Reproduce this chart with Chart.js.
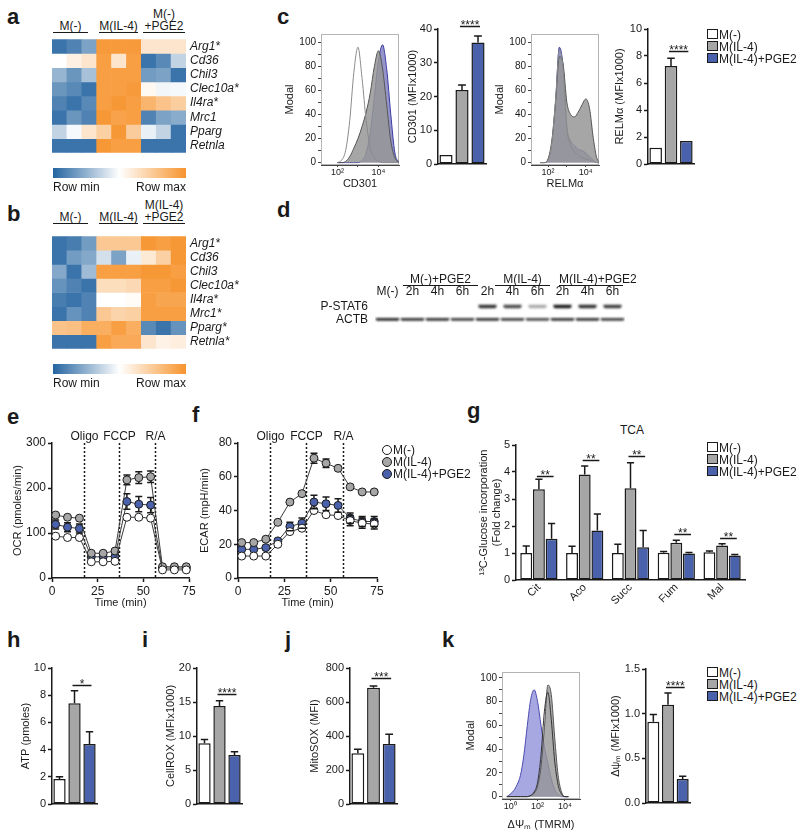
<!DOCTYPE html>
<html>
<head>
<meta charset="utf-8">
<script src="https://cdn.jsdelivr.net/npm/chart.js@4.4.1/dist/chart.umd.min.js"></script>
<style>
  body { margin: 0; background: #fff; }
  #fig { position: relative; width: 800px; height: 840px; overflow: hidden; font-family: 'Liberation Sans', Arial, sans-serif; color: #1a1a1a; }
  #fig canvas { position: absolute; }
  .lbl { position: absolute; font-size: 22px; font-weight: bold; line-height: 22px; }
  .txt { position: absolute; font-size: 12px; line-height: 12px; white-space: nowrap; }
  .hd { position: absolute; font-size: 12px; line-height: 12px; text-align: center; border-bottom: 1.5px solid #1a1a1a; white-space: nowrap; }
  .sw { display: inline-block; width: 9px; height: 8px; border: 1.5px solid #1a1a1a; vertical-align: top; margin-right: 1px; }
  .dot { display: inline-block; width: 8px; height: 8px; border: 1.2px solid #1a1a1a; border-radius: 50%; vertical-align: top; margin-top: 1px; margin-right: 1px; }
</style>
</head>
<body>
<div id="fig"></div>
<script>
// ---------- data ----------
var groups = ['M(-)', 'M(IL-4)', 'M(IL-4)+PGE2'];
var groupColors = ['#ffffff', '#a6a6a6', '#4a61ac'];

// heatmaps a / b (0 = row min, 1 = row max)
var heatSamples = ['1', '2', '3', '1', '2', '3', '1', '2', '3'];
var genesA = ['Arg1*', 'Cd36', 'Chil3', 'Clec10a*', 'Il4ra*', 'Mrc1', 'Pparg', 'Retnla'];
var heatA = [
  [0.05, 0.10, 0.20, 0.97, 0.97, 0.97, 0.62, 0.62, 0.62],
  [0.50, 0.57, 0.62, 0.95, 0.62, 0.95, 0.05, 0.12, 0.36],
  [0.26, 0.16, 0.30, 0.95, 0.95, 0.95, 0.18, 0.20, 0.05],
  [0.16, 0.12, 0.05, 0.95, 0.95, 0.97, 0.53, 0.47, 0.48],
  [0.10, 0.05, 0.12, 0.95, 0.98, 0.95, 0.85, 0.78, 0.73],
  [0.05, 0.16, 0.10, 0.98, 0.93, 0.95, 0.10, 0.20, 0.23],
  [0.36, 0.48, 0.62, 0.72, 0.98, 0.74, 0.45, 0.36, 0.05],
  [0.05, 0.05, 0.05, 0.98, 0.95, 0.95, 0.05, 0.05, 0.05]
];
var genesB = ['Arg1*', 'Cd36', 'Chil3', 'Clec10a*', 'Il4ra*', 'Mrc1*', 'Pparg*', 'Retnla*'];
var heatB = [
  [0.05, 0.08, 0.18, 0.76, 0.76, 0.76, 0.98, 0.95, 0.98],
  [0.05, 0.18, 0.22, 0.40, 0.20, 0.45, 0.60, 0.72, 0.98],
  [0.22, 0.05, 0.28, 0.95, 0.95, 0.95, 0.98, 0.98, 0.95],
  [0.15, 0.10, 0.05, 0.66, 0.66, 0.68, 0.95, 0.95, 0.98],
  [0.08, 0.05, 0.10, 0.50, 0.50, 0.52, 0.95, 0.92, 0.92],
  [0.05, 0.15, 0.10, 0.76, 0.70, 0.72, 0.95, 0.95, 0.95],
  [0.78, 0.80, 0.88, 0.88, 0.95, 0.88, 0.12, 0.05, 0.15],
  [0.05, 0.05, 0.05, 0.95, 0.90, 0.90, 0.62, 0.56, 0.58]
];
var colorbarLabels = ['Row min', 'Row max'];

// c: flow histograms (x in log10 units) and MFI bars
var histYTicks = [0, 10, 20, 30, 40, 50, 60, 70, 80, 90, 100];
var cdHistX = [2.0, 2.2, 2.4, 2.6, 2.8, 3.0, 3.2, 3.4, 3.6, 3.8, 4.0, 4.2, 4.4, 4.6, 4.8, 5.0];
var cdHistM = [0, 2, 10, 35, 75, 96, 70, 35, 12, 4, 1, 0, 0, 0, 0, 0];
var cdHistIL4 = [0, 0, 1, 5, 12, 20, 30, 42, 58, 80, 93, 78, 48, 18, 4, 0];
var cdHistPGE2 = [0, 0, 0, 0, 0, 0, 2, 8, 25, 55, 85, 98, 78, 40, 8, 0];
var cdXTicks = [2, 3, 4];
var cdXLabels = ['10\u00b2', '', '10\u2074'];
var cd301 = [2.7, 21.9, 36.0];
var cd301Err = [0, 1.5, 1.9];

var relmHistX = [1.6, 1.8, 2.0, 2.2, 2.4, 2.6, 2.8, 3.0, 3.2, 3.4, 3.6, 3.8, 4.0, 4.2, 4.4, 4.6, 4.8];
var relmHistM = [0, 0, 2, 16, 52, 94, 78, 28, 14, 9, 6, 4, 3, 2, 1, 0, 0];
var relmHistIL4 = [0, 0, 3, 18, 50, 88, 82, 50, 40, 38, 42, 48, 53, 45, 20, 3, 0];
var relmHistPGE2 = [0, 0, 2, 15, 50, 96, 80, 30, 18, 14, 11, 10, 8, 5, 2, 0, 0];
var relmXTicks = [2, 3, 4];
var relmXLabels = ['10\u00b2', '', '10\u2074'];
var relm = [1.21, 7.26, 1.70];
var relmErr = [0, 0.57, 0];

// d: western blot band intensities
var lanes = ['M(-)', '2h', '4h', '6h', '2h', '4h', '6h', '2h', '4h', '6h'];
var blotRows = ['P-STAT6', 'ACTB'];
var pstat6 = [0, 0, 0, 0, 0.85, 0.75, 0.35, 0.95, 0.85, 0.8];
var actb = [0.9, 0.85, 0.85, 0.8, 0.85, 0.8, 0.75, 0.85, 0.85, 0.8];

// e/f: Seahorse
var seahorseTime = [2, 8.5, 15, 21.5, 28, 34.5, 41, 47.5, 54, 60.5, 67, 73.5];
var injTimes = [17.5, 36.5, 56.5];
var injNames = ['Oligo', 'FCCP', 'R/A'];
var ocrM = [93, 90, 90, 36, 36, 37, 135, 135, 133, 18, 18, 18];
var ocrIL4 = [140, 135, 133, 55, 55, 60, 218, 223, 225, 25, 25, 25];
var ocrPGE2 = [119, 113, 110, 47, 47, 48, 170, 164, 162, 22, 22, 22];
var ocrErrM = [4, 4, 4, 3, 3, 3, 4, 4, 4, 2, 2, 2];
var ocrErrIL4 = [6, 6, 6, 4, 4, 4, 11, 13, 13, 3, 3, 3];
var ocrErrPGE2 = [10, 10, 10, 4, 4, 4, 17, 17, 17, 3, 3, 3];
var ecarM = [13, 13, 13, 20, 27.5, 29.5, 40, 37.5, 37, 34, 32.5, 32];
var ecarIL4 = [21, 21, 23, 33, 45, 50, 71, 68, 65, 54, 51, 51];
var ecarPGE2 = [17, 17, 18, 22, 30.5, 32.5, 45, 44, 43, 35.5, 33.5, 33.5];
var ecarErrM = [1.5, 1.5, 1.5, 1.5, 2, 2, 2, 2, 2, 3, 3, 3];
var ecarErrIL4 = [1, 1, 1, 1, 1, 1, 3, 2.5, 2, 1.5, 1.5, 1.5];
var ecarErrPGE2 = [2, 2, 2, 2, 2.5, 3, 4, 4, 4, 3, 3, 3];

// g: 13C-glucose incorporation
var tcaMetabolites = ['Cit', 'Aco', 'Succ', 'Fum', 'Mal'];
var tcaM = [1.0, 1.0, 1.0, 1.01, 1.03];
var tcaIL4 = [3.36, 3.91, 3.40, 1.38, 1.28];
var tcaPGE2 = [1.53, 1.83, 1.21, 0.98, 0.91];
var tcaErrM = [0.26, 0.25, 0.32, 0.05, 0.04];
var tcaErrIL4 = [0.37, 0.31, 0.94, 0.09, 0.06];
var tcaErrPGE2 = [0.56, 0.61, 0.62, 0.04, 0.03];
var tcaSig = [3.86, 4.44, 4.6, 1.7, 1.57];

// h-k
var atp = [1.84, 7.4, 4.41];
var atpErr = [0.16, 0.93, 0.91];
var cellrox = [8.93, 14.4, 7.2];
var cellroxErr = [0.57, 0.8, 0.5];
var mitosox = [298, 684, 353];
var mitosoxErr = [24, 10, 57];
var kHistX = [-0.25, 0, 0.25, 0.5, 0.75, 1.0, 1.25, 1.5, 1.75, 2.0, 2.25, 2.5, 2.75, 3.0, 3.25, 3.5, 3.75, 4.0, 4.25];
var kHistM = [0, 0, 0, 0, 0, 0, 0, 1, 4, 12, 35, 72, 88, 65, 30, 10, 2, 0, 0];
var kHistIL4 = [0, 0, 0, 0, 0, 0, 0, 1, 3, 9, 25, 58, 94, 86, 50, 18, 4, 0, 0];
var kHistPGE2 = [0, 2, 5, 10, 18, 35, 60, 82, 90, 80, 60, 42, 28, 15, 6, 2, 0, 0, 0];
var kXTicks = [0, 2, 4];
var kXLabels = ['10\u2070', '10\u00b2', '10\u2074'];
var tmrm = [0.91, 1.10, 0.27];
var tmrmErr = [0.08, 0.13, 0.03];

// ---------- setup ----------
var INK = '#1a1a1a';
var FONT = "'Liberation Sans', Arial, sans-serif";
Chart.defaults.font.family = FONT;
Chart.defaults.font.size = 11;
Chart.defaults.color = INK;
Chart.defaults.animation = false;
Chart.defaults.plugins.legend.display = false;
Chart.defaults.plugins.tooltip.enabled = false;

var fig = document.getElementById('fig');

function addDiv(cls, x, y, html, extra) {
  var d = document.createElement('div');
  d.className = cls;
  d.style.left = x + 'px';
  d.style.top = y + 'px';
  if (extra) Object.keys(extra).forEach(function (k) { d.style[k] = extra[k]; });
  d.innerHTML = html;
  fig.appendChild(d);
  return d;
}

// area = plot box [left, top, right, bottom] on the page, m = margins [l, t, r, b]
function makeChart(area, m, cfg) {
  var cv = document.createElement('canvas');
  var w = area[2] - area[0] + m[0] + m[2];
  var h = area[3] - area[1] + m[1] + m[3];
  cv.width = w; cv.height = h;
  cv.style.left = (area[0] - m[0]) + 'px';
  cv.style.top = (area[1] - m[1]) + 'px';
  cv.style.width = w + 'px';
  cv.style.height = h + 'px';
  fig.appendChild(cv);
  var pad = { left: m[0], top: m[1], right: m[2], bottom: m[3] };
  var sc = cfg.options.scales || {};
  Object.keys(sc).forEach(function (k) {
    var s = sc[k];
    if (s.display === false) return;
    var pos = s.position || (k.charAt(0) === 'x' ? 'bottom' : 'left');
    var size = pad[pos];
    pad[pos] = 0;
    s.afterFit = function (a) {
      if (pos === 'left' || pos === 'right') a.width = size; else a.height = size;
    };
  });
  cfg.options.responsive = false;
  cfg.options.layout = { padding: pad };
  return new Chart(cv, cfg);
}

function yAxis(min, max, step, title, fontSize) {
  return {
    min: min, max: max,
    ticks: { stepSize: step, padding: 2, font: { size: fontSize || 11 } },
    grid: { display: true, drawOnChartArea: false, drawTicks: true, tickLength: 4, tickColor: INK, tickWidth: 1.5 },
    border: { display: true, color: INK, width: 1.5 },
    title: { display: !!title, text: title, padding: 0, font: { size: 11 } }
  };
}

function xBar() {
  return {
    ticks: { display: false },
    grid: { display: false, drawTicks: false },
    border: { display: true, color: INK, width: 1.5 }
  };
}

var errPlugin = {
  id: 'errs',
  afterDatasetsDraw: function (chart) {
    var ctx = chart.ctx;
    chart.data.datasets.forEach(function (ds, i) {
      if (!ds.errs) return;
      var meta = chart.getDatasetMeta(i);
      var ys = chart.scales[meta.yAxisID];
      var isBar = meta.type === 'bar';
      ctx.save();
      ctx.strokeStyle = INK;
      ctx.lineWidth = 1.5;
      meta.data.forEach(function (el, j) {
        var e = ds.errs[j];
        if (!e) return;
        var raw = ds.data[j];
        var v = typeof raw === 'object' ? raw.y : raw;
        var top = ys.getPixelForValue(v + e);
        var cap = isBar ? Math.min(el.width * 0.3, 4) : 3.5;
        ctx.beginPath();
        if (isBar) {
          ctx.moveTo(el.x, el.y); ctx.lineTo(el.x, top);
          ctx.moveTo(el.x - cap, top); ctx.lineTo(el.x + cap, top);
        } else {
          var bot = ys.getPixelForValue(v - e), r = 4;
          if (el.y - top > r) {
            ctx.moveTo(el.x, el.y - r); ctx.lineTo(el.x, top);
            ctx.moveTo(el.x - cap, top); ctx.lineTo(el.x + cap, top);
          }
          if (bot - el.y > r) {
            ctx.moveTo(el.x, el.y + r); ctx.lineTo(el.x, bot);
            ctx.moveTo(el.x - cap, bot); ctx.lineTo(el.x + cap, bot);
          }
        }
        ctx.stroke();
      });
      ctx.restore();
    });
  }
};

var sigPlugin = {
  id: 'sig',
  afterDatasetsDraw: function (chart, args, opts) {
    var ctx = chart.ctx, ys = chart.scales.y;
    (opts.items || []).forEach(function (it) {
      var a = chart.getDatasetMeta(it.a[0]).data[it.a[1]];
      var b = chart.getDatasetMeta(it.b[0]).data[it.b[1]];
      var y = Math.round(ys.getPixelForValue(it.y)) + 0.5;
      ctx.save();
      ctx.strokeStyle = INK;
      ctx.lineWidth = 1.5;
      ctx.beginPath();
      ctx.moveTo(a.x - 2, y); ctx.lineTo(b.x + 2, y);
      ctx.stroke();
      ctx.fillStyle = INK;
      ctx.font = '12px ' + FONT;
      ctx.textAlign = 'center';
      ctx.textBaseline = 'alphabetic';
      ctx.fillText(it.text, (a.x + b.x) / 2, y + 2);
      ctx.restore();
    });
  }
};

var injPlugin = {
  id: 'inj',
  beforeDatasetsDraw: function (chart, args, opts) {
    var ctx = chart.ctx, a = chart.chartArea, xs = chart.scales.x;
    ctx.save();
    opts.at.forEach(function (t, i) {
      var x = Math.round(xs.getPixelForValue(t)) + 0.5;
      ctx.setLineDash([2, 2]);
      ctx.lineWidth = 1.5;
      ctx.strokeStyle = INK;
      ctx.beginPath(); ctx.moveTo(x, a.top); ctx.lineTo(x, a.bottom); ctx.stroke();
      ctx.setLineDash([]);
      ctx.fillStyle = INK;
      ctx.font = '12px ' + FONT;
      ctx.textAlign = 'center';
      ctx.textBaseline = 'bottom';
      ctx.fillText(opts.labels[i], x, a.top);
    });
    ctx.restore();
  }
};

var boxPlugin = {
  id: 'box',
  beforeDatasetsDraw: function (chart) {
    var a = chart.chartArea, ctx = chart.ctx;
    ctx.save();
    ctx.strokeStyle = '#b4b4b4';
    ctx.lineWidth = 1;
    ctx.strokeRect(a.left + 0.5, a.top + 0.5, a.right - a.left - 1, a.bottom - a.top - 1);
    ctx.restore();
  }
};

// soft edges for the blot bands
var blurPlugin = {
  id: 'blur',
  beforeDatasetsDraw: function (chart) { chart.ctx.save(); chart.ctx.filter = 'blur(0.9px)'; },
  afterDatasetsDraw: function (chart) { chart.ctx.restore(); }
};

function heatColor(v) {
  var lo = [36, 100, 160], mid = [255, 255, 255], hi = [247, 148, 46];
  var a, b, t;
  if (v < 0.5) { a = lo; b = mid; t = v / 0.5; } else { a = mid; b = hi; t = (v - 0.5) / 0.5; }
  return 'rgb(' + [0, 1, 2].map(function (k) { return Math.round(a[k] + (b[k] - a[k]) * t); }).join(',') + ')';
}

function heatmap(area, genes, heat) {
  var ds = genes.map(function (g, r) {
    return {
      data: heat[r].map(function () { return [r, r + 1]; }),
      backgroundColor: heat[r].map(heatColor),
      borderWidth: 0, grouped: false, barPercentage: 1, categoryPercentage: 1
    };
  });
  return makeChart(area, [0, 8, 70, 8], {
    type: 'bar',
    data: { labels: heatSamples, datasets: ds },
    options: {
      scales: {
        x: { display: false },
        y: {
          position: 'right', min: 0, max: genes.length, reverse: true,
          afterBuildTicks: function (s) { s.ticks = genes.map(function (g, i) { return { value: i + 0.5 }; }); },
          ticks: { autoSkip: false, padding: 4, font: { size: 12, style: 'italic' },
                   callback: function (v, i) { return genes[i]; } },
          grid: { display: false, drawTicks: false }, border: { display: false }
        }
      }
    }
  });
}

function colorbar(area) {
  return makeChart(area, [8, 4, 8, 16], {
    type: 'bar',
    data: { labels: [''], datasets: [{
      data: [[0, 1]], borderWidth: 0, barPercentage: 1, categoryPercentage: 1,
      backgroundColor: function (c) {
        var a = c.chart.chartArea;
        if (!a) return '#fff';
        var g = c.chart.ctx.createLinearGradient(a.left, 0, a.right, 0);
        g.addColorStop(0, heatColor(0)); g.addColorStop(0.5, heatColor(0.5)); g.addColorStop(1, heatColor(1));
        return g;
      }
    }] },
    options: {
      indexAxis: 'y',
      scales: {
        y: { display: false },
        x: {
          min: 0, max: 1,
          afterBuildTicks: function (s) { s.ticks = [{ value: 0 }, { value: 1 }]; },
          ticks: { align: 'inner', padding: 2, font: { size: 12 }, callback: function (v, i) { return colorbarLabels[i]; } },
          grid: { display: false, drawTicks: false }, border: { display: false }
        }
      }
    }
  });
}

function bar3(area, m, vals, errs, y, sigY, sigText) {
  return makeChart(area, m, {
    type: 'bar',
    data: { labels: groups, datasets: [{
      data: vals, errs: errs, backgroundColor: groupColors, borderColor: INK, borderWidth: 1.5,
      borderSkipped: false, barPercentage: 0.82, categoryPercentage: 1
    }] },
    options: {
      scales: { x: xBar(), y: y },
      plugins: { sig: { items: [{ a: [0, 1], b: [0, 2], y: sigY, text: sigText }] } }
    },
    plugins: [errPlugin, sigPlugin]
  });
}

function hist(area, m, xs, curves, styles, yMin, yMax, xMin, xMax, xTicks, xLabels, xTitle) {
  var ds = curves.map(function (c, i) {
    var st = styles[i];
    return {
      data: xs.map(function (x, j) { return { x: x, y: c[j] }; }),
      fill: st.fill ? 'origin' : false, backgroundColor: st.fill || 'transparent',
      borderColor: st.line, borderWidth: 1, pointRadius: 0, cubicInterpolationMode: 'monotone'
    };
  });
  return makeChart(area, m, {
    type: 'line',
    data: { datasets: ds },
    options: {
      scales: {
        x: {
          type: 'linear', min: xMin, max: xMax,
          afterBuildTicks: function (s) { s.ticks = xTicks.map(function (v) { return { value: v }; }); },
          ticks: { autoSkip: false, padding: 0, maxRotation: 0, font: { size: 9 }, callback: function (v, i) { return xLabels[i]; } },
          grid: { display: true, drawOnChartArea: false, drawTicks: true, tickLength: 2, tickColor: '#444' },
          border: { display: true, color: '#444', width: 1 },
          title: { display: true, text: xTitle, padding: 0, font: { size: 11 } }
        },
        y: {
          min: yMin, max: yMax,
          afterBuildTicks: function (s) { s.ticks = histYTicks.map(function (v) { return { value: v }; }); },
          ticks: { autoSkip: false, padding: 2, font: { size: 10 }, callback: function (v) { return v % 20 === 0 ? v : ''; } },
          grid: { display: true, drawOnChartArea: false, drawTicks: true, tickLength: 3, tickColor: '#444' },
          border: { display: true, color: '#444', width: 1 },
          title: { display: true, text: 'Modal', padding: 0, font: { size: 11 } }
        }
      }
    },
    plugins: [boxPlugin]
  });
}

function seahorse(area, m, series, errs, ymax, ystep, ytitle) {
  var ds = series.map(function (vals, i) {
    return {
      data: seahorseTime.map(function (t, j) { return { x: t, y: vals[j] }; }),
      errs: errs[i], borderColor: '#3a3a3a', borderWidth: 1, pointRadius: 4,
      pointBackgroundColor: groupColors[i], pointBorderColor: INK, pointBorderWidth: 1,
      tension: 0, fill: false, clip: false
    };
  });
  var x = yAxis(0, 75, 25, 'Time (min)', 12);
  x.type = 'linear';
  return makeChart(area, m, {
    type: 'line',
    data: { datasets: ds },
    options: {
      scales: { x: x, y: yAxis(0, ymax, ystep, ytitle, 12) },
      plugins: { inj: { at: injTimes, labels: injNames } }
    },
    plugins: [injPlugin, errPlugin]
  });
}

function legend(x, y, round) {
  groups.forEach(function (g, i) {
    var mark = round
      ? '<span class="dot" style="background:' + groupColors[i] + '"></span>'
      : '<span class="sw" style="background:' + groupColors[i] + '"></span>';
    addDiv('txt', x, y + i * 12, mark + g);
  });
}

// ---------- panel letters ----------
[['a', 7, 6], ['b', 7, 203], ['c', 277, 6], ['d', 277, 199], ['e', 7, 406], ['f', 192, 404],
 ['g', 467, 400], ['h', 7, 629], ['i', 142, 629], ['j', 285, 629], ['k', 442, 629]].forEach(function (p) {
  addDiv('lbl', p[1], p[2], p[0]);
});

// ---------- a / b ----------
addDiv('hd', 53, 20, 'M(-)', { width: '35px' });
addDiv('hd', 99, 20, 'M(IL-4)', { width: '39px' });
addDiv('hd', 143, 8, 'M(-)<br>+PGE2', { width: '42px' });
heatmap([52, 36, 186, 156], genesA, heatA);
colorbar([53, 168, 186, 178]);

addDiv('hd', 53, 211, 'M(-)', { width: '35px' });
addDiv('hd', 99, 211, 'M(IL-4)', { width: '39px' });
addDiv('hd', 143, 199, 'M(IL-4)<br>+PGE2', { width: '42px' });
heatmap([52, 233, 186, 352], genesB, heatB);
colorbar([53, 364, 186, 374]);

// ---------- c ----------
var histStyles = [
  { fill: null, line: '#8a8a8a' },
  { fill: 'rgba(150,150,150,0.85)', line: '#555' },
  { fill: 'rgba(62,62,160,0.55)', line: '#3a3aa0' }
];
hist([321, 34, 399, 165], [38, 8, 10, 26], cdHistX, [cdHistM, cdHistIL4, cdHistPGE2], histStyles,
     -2, 107, 1.2, 5.0, cdXTicks, cdXLabels, 'CD301');
bar3([438, 29, 486, 164], [32, 10, 10, 10], cd301, cd301Err, yAxis(0, 40, 10, 'CD301 (MFIx1000)'), 41, '****');
hist([531, 34, 599, 165], [38, 8, 10, 26], relmHistX, [relmHistM, relmHistIL4, relmHistPGE2], histStyles,
     -2, 107, 1.1, 4.7, relmXTicks, relmXLabels, 'RELM\u03b1');
bar3([648, 29, 694, 164], [35, 10, 10, 10], relm, relmErr, yAxis(0, 10, 2, 'RELM\u03b1 (MFIx1000)'), 8.4, '****');
legend(707, 29, false);

// ---------- d ----------
addDiv('hd', 403, 273, 'M(-)+PGE2', { width: '75px' });
addDiv('hd', 495, 273, 'M(IL-4)', { width: '55px' });
addDiv('hd', 559, 273, 'M(IL-4)+PGE2', { width: '64px' });
(function () {
  var rows = [pstat6, actb];
  var ds = rows.map(function (vals, r) {
    return {
      data: vals.map(function () { return r === 0 ? [0.36, 0.64] : [1.39, 1.61]; }),
      backgroundColor: vals.map(function (v) { return 'rgba(15,15,15,' + v + ')'; }),
      borderWidth: 0, grouped: false, barPercentage: r === 0 ? 0.72 : 0.94, categoryPercentage: 1, borderRadius: 2
    };
  });
  makeChart([375, 300, 625, 336], [80, 15, 4, 4], {
    type: 'bar',
    data: { labels: lanes, datasets: ds },
    options: {
      scales: {
        x: { position: 'top', grid: { display: false, drawTicks: false }, border: { display: false },
             ticks: { padding: 1, autoSkip: false, maxRotation: 0, font: { size: 12 } } },
        y: { min: 0, max: 2, reverse: true,
             afterBuildTicks: function (s) { s.ticks = [{ value: 0.5 }, { value: 1.5 }]; },
             ticks: { padding: 7, font: { size: 12 }, callback: function (v, i) { return blotRows[i]; } },
             grid: { display: false, drawTicks: false }, border: { display: false } }
      }
    },
    plugins: [blurPlugin]
  });
})();

// ---------- e / f ----------
seahorse([52, 443, 189, 578], [41, 20, 12, 32], [ocrM, ocrIL4, ocrPGE2], [ocrErrM, ocrErrIL4, ocrErrPGE2],
         300, 100, 'OCR (pmoles/min)');
seahorse([238, 443, 377, 578], [40, 20, 12, 32], [ecarM, ecarIL4, ecarPGE2], [ecarErrM, ecarErrIL4, ecarErrPGE2],
         80, 20, 'ECAR (mpH/min)');
legend(382, 444, true);

// ---------- g ----------
addDiv('txt', 620, 424, 'TCA');
(function () {
  var sets = [tcaM, tcaIL4, tcaPGE2], errs = [tcaErrM, tcaErrIL4, tcaErrPGE2];
  var ds = sets.map(function (vals, i) {
    return { data: vals, errs: errs[i], backgroundColor: groupColors[i], borderColor: INK, borderWidth: 1.5,
             borderSkipped: false, barPercentage: 0.94, categoryPercentage: 0.83 };
  });
  var x = xBar();
  x.ticks = { display: true, minRotation: 45, maxRotation: 45, padding: 1, font: { size: 11 } };
  makeChart([516, 445, 745, 580], [39, 10, 10, 40], {
    type: 'bar',
    data: { labels: tcaMetabolites, datasets: ds },
    options: {
      scales: { x: x, y: (function () {
        var y = yAxis(0, 5, 1, null);
        y.title = { display: true, text: ['\u00b9\u00b3C-Glucose incorporation', '(Fold change)'], padding: 0, font: { size: 11 } };
        return y;
      })() },
      plugins: { sig: { items: tcaSig.map(function (s, k) { return { a: [1, k], b: [2, k], y: s, text: '**' }; }) } }
    },
    plugins: [errPlugin, sigPlugin]
  });
})();
legend(707, 442, false);

// ---------- h / i / j ----------
bar3([52, 668, 97, 804], [33, 12, 10, 10], atp, atpErr, yAxis(0, 10, 2, 'ATP (pmoles)'), 8.75, '*');
bar3([197, 668, 242, 804], [33, 12, 10, 10], cellrox, cellroxErr, yAxis(0, 20, 5, 'CellROX (MFIx1000)'), 16.2, '****');
bar3([350, 668, 397, 804], [42, 12, 10, 10], mitosox, mitosoxErr, yAxis(0, 800, 200, 'MitoSOX (MFI)'), 741, '***');

// ---------- k ----------
var kStyles = [
  { fill: null, line: '#333' },
  { fill: 'rgba(150,150,150,0.8)', line: '#555' },
  { fill: 'rgba(95,95,200,0.55)', line: '#4a4ab0' }
];
hist([502, 672, 580, 799], [38, 8, 10, 33], kHistX, [kHistM, kHistIL4, kHistPGE2], kStyles,
     -2, 105, -0.6, 5.1, kXTicks, kXLabels, '\u0394\u03a8\u2098 (TMRM)');
(function () {
  var y = yAxis(0, 1.5, 0.5, '\u0394\u03c8\u2098 (MFIx1000)');
  y.ticks.callback = function (v) { return v.toFixed(1); };
  bar3([646, 669, 690, 803], [37, 12, 10, 10], tmrm, tmrmErr, y, 1.30, '****');
})();
legend(707, 667, false);
</script>
</body>
</html>
